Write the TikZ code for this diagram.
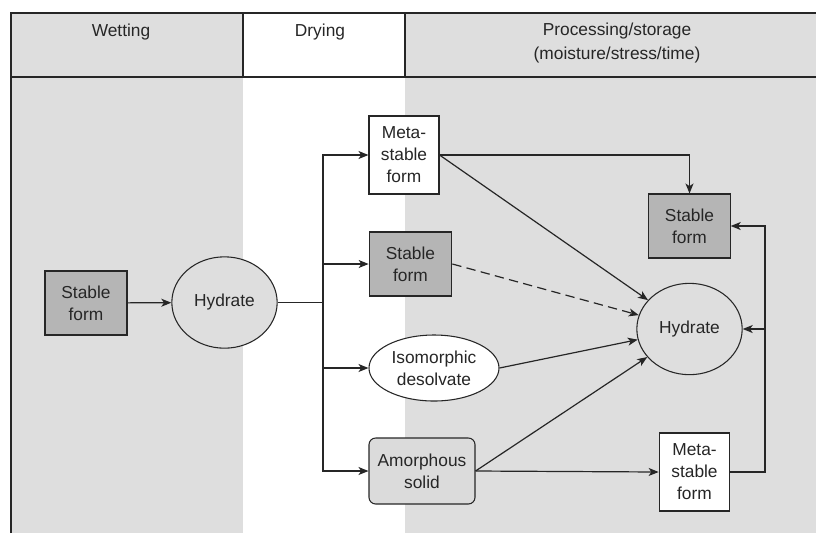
\documentclass[tikz,border=0pt]{standalone}
\usepackage{fontspec}
\setmainfont{Liberation Sans}
\usetikzlibrary{arrows.meta,shapes.geometric}
\definecolor{bggray}{gray}{0.87}
\definecolor{boxgray}{gray}{0.71}
\definecolor{amorgray}{gray}{0.86}
\tikzset{
  frm/.style={draw=black!85,line width=0.8pt},
  lbl/.style={align=center,inner sep=0pt,text=black!85,font=\fontsize{13}{16.5}\selectfont},
  stablebox/.style={lbl,frm,rectangle,fill=boxgray,minimum width=61.5pt,minimum height=48pt},
  metabox/.style={lbl,frm,rectangle,fill=white,minimum width=52.5pt,minimum height=58.5pt},
  hydr/.style={lbl,frm,ellipse,fill=bggray,minimum width=79pt,minimum height=68.5pt},
  flow/.style={line width=0.9pt,draw=black!85,-{Stealth[length=7.5pt,width=6pt,inset=2pt]}},
  link/.style={line width=0.9pt,draw=black!85}
}
\begin{document}
\begin{tikzpicture}[x=0.75pt,y=-0.75pt]
  \useasboundingbox (0,0) rectangle (816,533);
  % column shading
  \fill[bggray] (11,13) rectangle (243,533);
  \fill[bggray] (405,13) rectangle (816,533);
  \draw[link] (11,533) -- (11,13) -- (816,13);
  \draw[link] (243,13) -- (243,77);
  \draw[link] (405,13) -- (405,77);
  \draw[line width=1.6pt,black!85] (11,77) -- (816,77);
  \node[lbl] (hwet) at (121,32) {Wetting};
  \node[lbl] (hdry) at (320,32) {Drying};
  \node[lbl,font=\fontsize{13}{18.5}\selectfont] (hproc) at (617,43) {Processing/storage\\(moisture/stress/time)};

  \node[stablebox] (stableL) at (86,303) {Stable\\form};
  \node[hydr] (hydL) at (224.5,302.5) {Hydrate};
  \node[metabox] (metaA) at (404,155) {Meta-\\stable\\form};
  \node[stablebox,minimum width=62pt] (stableB) at (410.5,264) {Stable\\form};
  \node[hydr,fill=white,minimum width=97.5pt,minimum height=49.5pt] (isoC) at (434,368) {Isomorphic\\desolvate};
  \node[lbl,frm,rectangle,rounded corners=5pt,fill=amorgray,minimum width=79.5pt,minimum height=49.5pt] (amorD) at (422,471) {Amorphous\\solid};
  \node[stablebox,minimum width=61pt] (stableR) at (689.5,226) {Stable\\form};
  \node[hydr] (hydR) at (689.5,329) {Hydrate};
  \node[metabox,minimum width=53pt] (metaR) at (694.5,472) {Meta-\\stable\\form};

  \coordinate (bus) at (323,302.5);
  \coordinate (loop) at (765,329);

  \draw[flow] (stableL) -- (hydL);
  \draw[link] (hydL.east) -- (bus);
  \foreach \n in {metaA,stableB,isoC,amorD}
    \draw[flow] (bus) |- (\n.west);
  \draw[flow] (metaA.east) -| (stableR.north);
  \draw[flow] (metaA.east) -- (hydR);
  \draw[flow,dashed,dash pattern=on 7pt off 4pt] (stableB.east) -- (hydR);
  \draw[flow] (isoC.east) -- (hydR);
  \draw[flow] (amorD.east) -- (hydR);
  \draw[flow] (amorD.east) -- (metaR.west);
  \draw[flow] (metaR.east) -| (loop) |- (stableR.east);
  \draw[flow] (loop) -- (hydR.east);
\end{tikzpicture}
\end{document}
